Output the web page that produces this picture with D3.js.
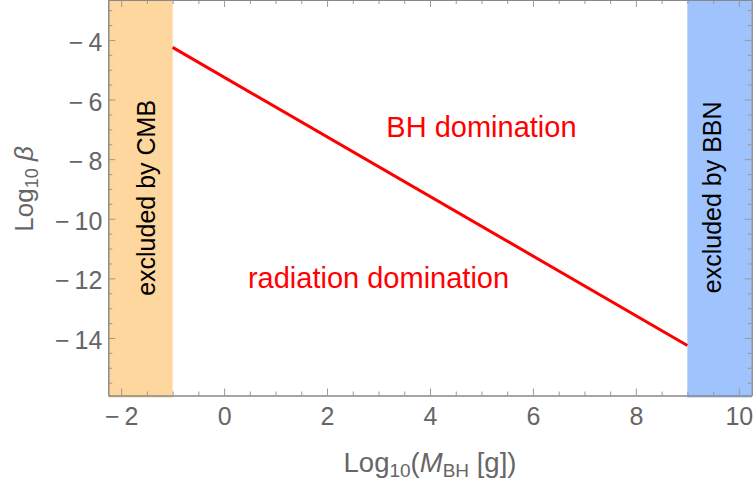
<!DOCTYPE html>
<html>
<head>
<meta charset="utf-8">
<script src="https://cdn.jsdelivr.net/npm/d3@7"></script>
<style>
  body { margin: 0; background: #fff; }
  svg { display: block; font-family: "Liberation Sans", Arial, sans-serif; }
</style>
</head>
<body>
<div id="viz"></div>
<script>
// tick labels
const xMajor = [-2, 0, 2, 4, 6, 8, 10]
const yMajor = [-14, -12, -10, -8, -6, -4]

// excluded regions (log10 of mass in g)
const cmbBand = [-2.25, -1]
const bbnBand = [9, 10.25]

// boundary line between the two regimes
const lineMass = [-1, 9]
const lineBeta = [-4.25, -14.25]

document.addEventListener("DOMContentLoaded", () => {
  const width = 755
  const height = 487

  const svg = d3.select("#viz").append("svg")
    .attr("width", width)
    .attr("height", height)

  const x = d3.scaleLinear().domain([-2.25, 10.25]).range([108.3, 751.7])
  const y = d3.scaleLinear().domain([-15.93, -2.66]).range([395.5, 0])

  const fmt = d => d < 0 ? "\u2212\u2009" + Math.abs(d) : String(d)
  const xMinor = d3.range(-2, 10.01, 0.5).filter(v => !xMajor.includes(v))
  const yMinor = d3.range(-15.5, -2.9, 0.5).filter(v => !yMajor.includes(v))

  // bands
  svg.append("rect")
    .attr("x", x(cmbBand[0]))
    .attr("y", 0)
    .attr("width", x(cmbBand[1]) - x(cmbBand[0]))
    .attr("height", y.range()[0] + 2)
    .attr("fill", "#fdd79e")
  svg.append("rect")
    .attr("x", x(bbnBand[0]))
    .attr("y", 0)
    .attr("width", x(bbnBand[1]) - x(bbnBand[0]))
    .attr("height", y.range()[0] + 2)
    .attr("fill", "#9ec3fd")

  // line
  const pts = lineMass.map((m, i) => [m, lineBeta[i]])
  svg.append("path")
    .datum(pts)
    .attr("d", d3.line().x(d => x(d[0])).y(d => y(d[1])))
    .attr("fill", "none")
    .attr("stroke", "#ff0000")
    .attr("stroke-width", 3)

  // axes
  function styleAxis(g) {
    g.selectAll(".domain").attr("stroke", "#888")
    g.selectAll(".tick line").attr("stroke", "#999")
    g.selectAll(".tick text").attr("fill", "#666").style("font-size", "25px")
      .style("font-family", "Liberation Sans, Arial, sans-serif")
  }

  const bottom = y.range()[0]
  const right = x.range()[1]

  svg.append("g").attr("transform", `translate(0,${bottom})`)
    .call(d3.axisBottom(x).tickValues(xMinor).tickSize(-4).tickSizeOuter(0).tickFormat(""))
    .call(styleAxis)
  svg.append("g").attr("transform", `translate(0,${bottom})`)
    .call(d3.axisBottom(x).tickValues(xMajor).tickSize(-7).tickSizeOuter(0).tickPadding(12).tickFormat(fmt))
    .call(styleAxis)

  svg.append("g").attr("transform", `translate(${x.range()[0]},0)`)
    .call(d3.axisLeft(y).tickValues(yMinor).tickSize(-4).tickSizeOuter(0).tickFormat(""))
    .call(styleAxis)
  svg.append("g").attr("transform", `translate(${x.range()[0]},0)`)
    .call(d3.axisLeft(y).tickValues(yMajor).tickSize(-7).tickSizeOuter(0).tickPadding(6).tickFormat(fmt))
    .call(styleAxis)
    .selectAll(".tick text").attr("dy", "0.42em")

  svg.append("g").attr("transform", "translate(0,0)")
    .call(d3.axisTop(x).tickValues(xMinor).tickSize(-4).tickSizeOuter(0).tickFormat(""))
    .call(styleAxis)
  svg.append("g").attr("transform", "translate(0,0)")
    .call(d3.axisTop(x).tickValues(xMajor).tickSize(-7).tickSizeOuter(0).tickFormat(""))
    .call(styleAxis)

  svg.append("g").attr("transform", `translate(${right},0)`)
    .call(d3.axisRight(y).tickValues(yMinor).tickSize(-4).tickSizeOuter(0).tickFormat(""))
    .call(styleAxis)
  svg.append("g").attr("transform", `translate(${right},0)`)
    .call(d3.axisRight(y).tickValues(yMajor).tickSize(-7).tickSizeOuter(0).tickFormat(""))
    .call(styleAxis)

  // region labels
  svg.append("text")
    .attr("x", x(5.0)).attr("y", y(-7.27))
    .attr("text-anchor", "middle")
    .attr("fill", "#ff0000")
    .style("font-size", "29px")
    .text("BH domination")
  svg.append("text")
    .attr("x", x(3.0)).attr("y", y(-12.31))
    .attr("text-anchor", "middle")
    .attr("fill", "#ff0000")
    .style("font-size", "29px")
    .text("radiation domination")

  svg.append("text")
    .attr("transform", `translate(${x(-1.35)},${y(-9.3)}) rotate(-90)`)
    .attr("text-anchor", "middle")
    .attr("fill", "#000")
    .style("font-size", "25px")
    .text("excluded by CMB")
  svg.append("text")
    .attr("transform", `translate(${x(9.66)},${y(-9.28)}) rotate(-90)`)
    .attr("text-anchor", "middle")
    .attr("fill", "#000")
    .style("font-size", "25px")
    .text("excluded by BBN")

  // axis titles
  const xt = svg.append("text")
    .attr("x", 430).attr("y", 471.7)
    .attr("text-anchor", "middle")
    .attr("fill", "#666")
    .style("font-size", "27.5px")
  xt.append("tspan").text("Log")
  xt.append("tspan").attr("dy", 5).style("font-size", "19px").text("10")
  xt.append("tspan").attr("dy", -5).text("(")
  xt.append("tspan").style("font-style", "italic").text("M")
  xt.append("tspan").attr("dy", 5).style("font-size", "19px").text("BH")
  xt.append("tspan").attr("dy", -5).text(" [g])")

  const yt = svg.append("text")
    .attr("transform", "translate(33,189) rotate(-90)")
    .attr("text-anchor", "middle")
    .attr("fill", "#666")
    .style("font-size", "26px")
  yt.append("tspan").text("Log")
  yt.append("tspan").attr("dy", 5).style("font-size", "18px").text("10")
  yt.append("tspan").attr("dy", -5).style("font-style", "italic").text(" \u03b2")
})
</script>
</body>
</html>
